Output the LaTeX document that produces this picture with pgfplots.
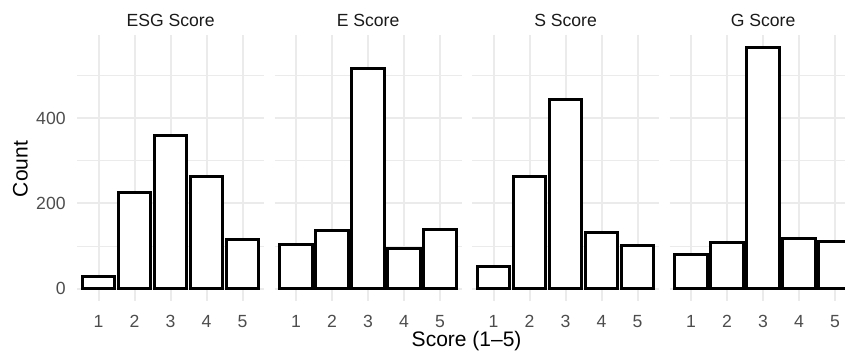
\documentclass[border=0pt]{standalone}
\usepackage{fontspec}
\setmainfont{Liberation Sans}
\usepackage{pgfplots}
\usepackage{pgfplotstable}
\pgfplotsset{compat=1.18}
\definecolor{gridc}{HTML}{EBEBEB}
\definecolor{tickc}{HTML}{4D4D4D}
\definecolor{stripc}{HTML}{1A1A1A}

\pgfplotstableread{
x y
1 28
2 226
3 359
4 262
5 115
}\esg
\pgfplotstableread{
x y
1 103
2 136
3 515
4 94
5 139
}\escore
\pgfplotstableread{
x y
1 52
2 262
3 443
4 133
5 101
}\sscore
\pgfplotstableread{
x y
1 80
2 108
3 566
4 118
5 112
}\gscore

\pgfplotsset{
 facet/.style={
  scale only axis, width=93.6pt, height=133pt,
  xmin=0.4, xmax=5.6, ymin=-28.3, ymax=594.3,
  axis line style={draw=none},
  tick style={draw=none},
  xtick={1,2,3,4,5},
  ytick={0,200,400}, minor ytick={100,300,500},
  grid=both,
  major grid style={gridc, line width=1.0pt},
  minor grid style={gridc, line width=0.5pt},
  tick label style={font=\fontsize{8.8}{10}\selectfont, text=tickc},
  /pgf/number format/assume math mode=true,
  xticklabel style={anchor=north, inner sep=0pt, yshift=-2.8pt},
  yticklabel style={anchor=east, inner sep=0pt, xshift=-5.5pt},
  title style={font=\fontsize{8.8}{10}\selectfont, text=stripc, at={(0.5,1)}, anchor=center, yshift=1.5pt, inner sep=0pt},
  ybar, bar width=0.9, bar shift=0pt,
  anchor=south west,
 },
 barsty/.style={draw=black, fill=white, line width=1.5pt},
}

\begin{document}
\begin{tikzpicture}
\path[use as bounding box] (0,0) rectangle (422.5pt,178pt);
\clip (0,0) rectangle (422.5pt,178pt);

\begin{axis}[facet, at={(38.5pt,27.5pt)}, title={ESG Score}]
\addplot[barsty] table[x=x,y=y] {\esg};
\end{axis}

\begin{axis}[facet, at={(137.25pt,27.5pt)}, title={E Score}, yticklabels={}]
\addplot[barsty] table[x=x,y=y] {\escore};
\end{axis}

\begin{axis}[facet, at={(236pt,27.5pt)}, title={S Score}, yticklabels={}]
\addplot[barsty] table[x=x,y=y] {\sscore};
\end{axis}

\begin{axis}[facet, at={(334.75pt,27.5pt)}, title={G Score}, yticklabels={}]
\addplot[barsty] table[x=x,y=y] {\gscore};
\end{axis}

\node[font=\fontsize{10.5}{12}\selectfont, anchor=base, inner sep=0pt] at (233.3pt,4.75pt) {Score (1–5)};
\node[font=\fontsize{10.5}{12}\selectfont, rotate=90, anchor=center, inner sep=0pt] at (10.25pt,93.5pt) {Count};
\end{tikzpicture}
\end{document}
